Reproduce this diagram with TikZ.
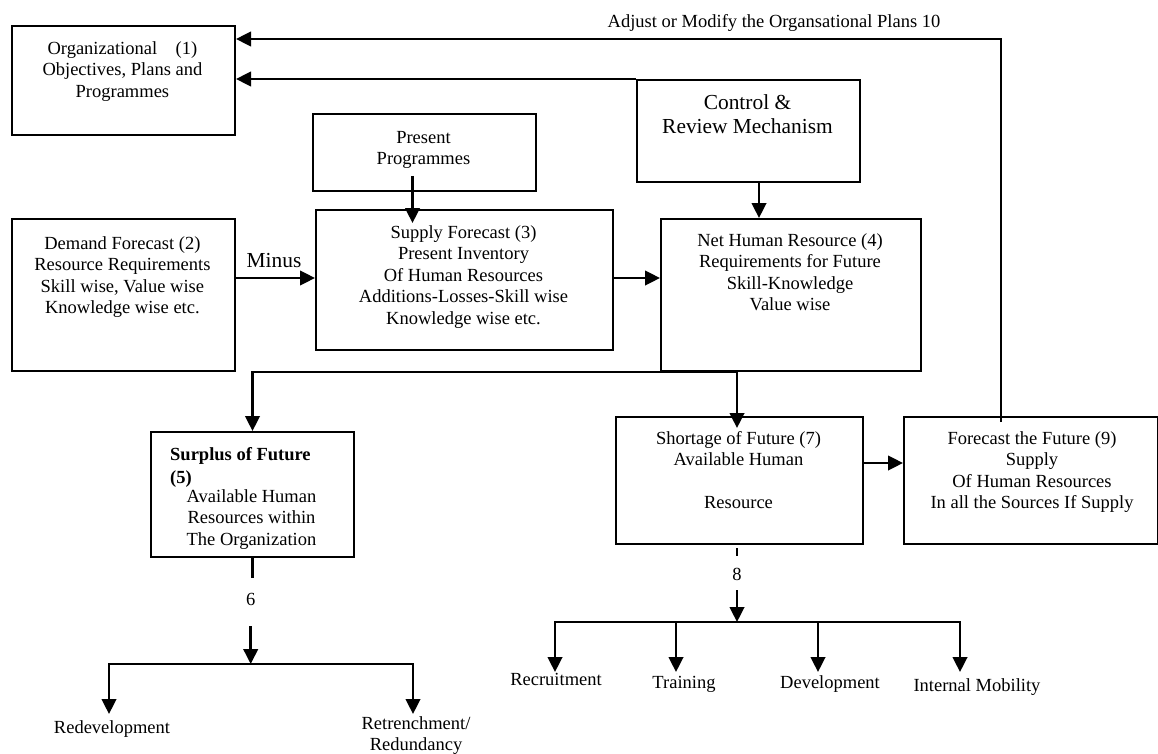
\documentclass[tikz,border=0pt]{standalone}
\usepackage{fontspec}
\setmainfont{Liberation Serif}
\usetikzlibrary{arrows.meta}
\begin{document}
\begin{tikzpicture}[x=1pt,y=-1pt,
  box/.style={draw,line width=2pt,inner sep=0pt,anchor=north west},
  txt/.style={inner sep=0pt,align=center,font=\fontsize{18.5}{21.5}\selectfont,anchor=north},
  lbl/.style={inner sep=0pt,font=\fontsize{18.5}{21.5}\selectfont,anchor=base},
  big/.style={inner sep=0pt,align=center,font=\fontsize{21.4}{24}\selectfont},
  conn/.style={line width=2.6pt},
  arr/.style={conn,-{Triangle[length=15pt,width=14.5pt]}}]
\useasboundingbox (0,0) rectangle (1158,754);

% boxes
\node[box,minimum width=223.3pt,minimum height=109pt] (b1) at (10.7,25) {};
\node[box,minimum width=223pt,minimum height=77pt] (pp) at (312,113) {};
\node[box,minimum width=223pt,minimum height=102pt] (ctrl) at (636,79) {};
\node[box,minimum width=223.3pt,minimum height=152pt] (dem) at (10.7,218) {};
\node[box,minimum width=297pt,minimum height=140pt] (b3) at (315,209) {};
\node[box,minimum width=260pt,minimum height=152pt] (b4) at (660,218) {};
\node[box,minimum width=203pt,minimum height=125pt] (sur) at (150,431) {};
\node[box,minimum width=247pt,minimum height=127pt] (b7) at (615,416) {};
\node[box,minimum width=254pt,minimum height=127pt] (b9) at (903,416) {};

% box texts
\node[txt] (t1) at (122.4,39) {\strut Organizational\quad(1)\\Objectives, Plans and\\Programmes};
\node[txt] (tpp) at (423.5,128) {\strut Present\\Programmes};
\node[big,anchor=north] (tctrl) at (747.5,93) {\strut Control \&\\Review Mechanism};
\node[txt] (tdem) at (122.4,234) {\strut Demand Forecast (2)\\Resource Requirements\\Skill wise, Value wise\\Knowledge wise etc.};
\node[txt] (t3) at (463.5,223) {\strut Supply Forecast (3)\\Present Inventory\\Of Human Resources\\Additions-Losses-Skill wise\\Knowledge wise etc.};
\node[txt] (t4) at (790,231) {\strut Net Human Resource (4)\\Requirements for Future\\Skill-Knowledge\\Value wise};
\node[txt,align=left,anchor=north west,font=\fontsize{18.5}{23}\selectfont\bfseries] (tsur) at (170,444) {\strut Surplus of Future\\(5)};
\node[txt] (tsur2) at (251.5,487) {\strut Available Human\\Resources within\\The Organization};
\node[txt] (t7) at (738.5,429) {\strut Shortage of Future (7)\\Available Human\\[21.5pt]Resource};
\node[txt] (t9) at (1032,429) {\strut Forecast the Future (9)\\Supply\\Of Human Resources\\In all the Sources If Supply};

% labels
\node[lbl] (adj) at (774,28) {Adjust or Modify the Organsational Plans 10};
\node[big,anchor=base] (minus) at (274,267) {Minus};
\node[lbl] (six) at (250.7,605) {6};
\node[lbl] (eight) at (737,580) {8};
\node[lbl] (redev) at (112,733) {Redevelopment};
\node[txt] (retr) at (416,714) {\strut Retrenchment/\\Redundancy};
\node[lbl] (recr) at (556,685) {Recruitment};
\node[lbl] (train) at (684,688) {Training};
\node[lbl] (devel) at (830,688) {Development};
\node[lbl] (mob) at (977,691) {Internal Mobility};

% connector points
\coordinate (up9) at (1001,422);
\coordinate (fork6) at (250.7,664);
\coordinate (fork8) at (737,622);
\coordinate (redevtip) at (109,714);
\coordinate (retrtip) at (413,714);
\coordinate (recrtip) at (555,672);
\coordinate (traintip) at (676,672);
\coordinate (develtip) at (818,672);
\coordinate (mobtip) at (960,672);

% connectors
\draw[arr] (up9) |- (b1.east |- 0,39);
\draw[arr] (ctrl.north west) -- (b1.east |- ctrl.north west);
\draw[arr] (pp.south -| 412.5,0) ++(0,-16) -- ++(0,47);
\draw[arr] (dem.east |- 0,278) -- (b3.west |- 0,278);
\draw[arr] (b3.east |- 0,278) -- (b4.west |- 0,278);
\draw[arr] (ctrl.south -| 759,0) -- (b4.north -| 759,0);
\draw[arr] (b4.south -| 737,0) -- (b4.south -| sur.north) -- (sur.north);
\draw[arr] (b4.south -| 737,0) -- (b7.north -| 737,0) -- ++(0,12);
\draw[arr] (b7.east |- 0,463) -- (b9.west |- 0,463);

\draw[conn] (sur.south) -- ++(0,20);
\draw[arr] (fork6) ++(0,-38) -- (fork6);
\draw[arr] (fork6) -| (redevtip);
\draw[arr] (fork6) -| (retrtip);

\draw[conn] (b7.south -| 737,0) ++(0,3) -- ++(0,8);
\draw[arr] (fork8) ++(0,-32) -- (fork8);
\draw[arr] (fork8) -| (recrtip);
\draw[arr] (fork8) -| (traintip);
\draw[arr] (fork8) -| (develtip);
\draw[arr] (fork8) -| (mobtip);
\end{tikzpicture}
\end{document}
